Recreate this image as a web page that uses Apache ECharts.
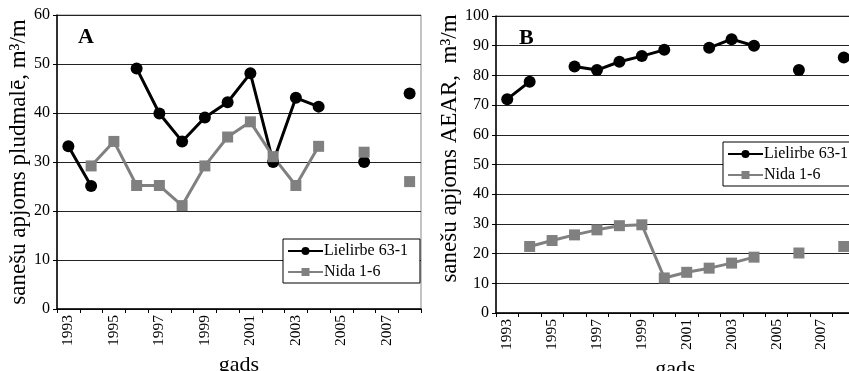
<!DOCTYPE html>
<html><head><meta charset="utf-8">
<script src="https://cdn.jsdelivr.net/npm/echarts@6/dist/echarts.min.js"></script>
<style>html,body{margin:0;padding:0;background:#fff}#c{width:849px;height:371px}</style>
</head><body><div id="c"></div>
<script>
const years = ['1993','1994','1995','1996','1997','1998','1999','2000','2001','2002','2003','2004','2005','2006','2007','2008'];
const lielirbeA = [33.2, 25.1, null, 49.1, 39.9, 34.2, 39.1, 42.2, 48.1, 30, 43.1, 41.3, null, 30, null, 44];
const nidaA     = [null, 29.2, 34.2, 25.2, 25.2, 21.1, 29.2, 35.1, 38.2, 31.1, 25.2, 33.2, null, 32, null, 26];
const lielirbeB = [72, 77.9, null, 83, 81.8, 84.6, 86.5, 88.6, null, 89.3, 92.2, 90, null, 81.8, null, 86];
const nidaB     = [null, 22.4, 24.4, 26.3, 28, 29.4, 29.7, 11.8, 13.7, 15.1, 16.8, 18.8, null, 20.2, null, 22.4];
const names = ['Lielirbe 63-1', 'Nida 1-6'];

const FONT = 'Liberation Serif';
const chart = echarts.init(document.getElementById('c'), null, {renderer: 'canvas'});

function xAxis(gi) {
  return {
    type: 'category', gridIndex: gi, data: years, boundaryGap: true,
    name: 'gads', nameLocation: 'middle', nameGap: 45,
    nameTextStyle: {fontFamily: FONT, fontSize: 22, color: '#000'},
    axisLine: {lineStyle: {color: '#000', width: 1.5}},
    axisTick: {show: true, interval: 0, length: 4, lineStyle: {color: '#000'}},
    axisLabel: {interval: 1, rotate: 90, margin: 6, fontFamily: FONT, fontSize: 15.5, color: '#000'},
    splitLine: {show: false}
  };
}
function yAxis(gi, max, title, pad) {
  return {
    type: 'value', gridIndex: gi, min: 0, max: max, interval: 10,
    name: title, nameLocation: 'middle', nameGap: 26,
    nameTextStyle: {fontFamily: FONT, fontSize: 23, color: '#000', padding: pad},
    axisLine: {show: true, lineStyle: {color: '#000', width: 1.5}},
    axisTick: {show: true, length: 4, lineStyle: {color: '#000'}},
    axisLabel: {margin: 7, fontFamily: FONT, fontSize: 16, color: '#000'},
    splitLine: {show: true, lineStyle: {color: '#222', width: 1}}
  };
}
function lineSeries(name, data, gi, black) {
  return {
    name: name, type: 'line', xAxisIndex: gi, yAxisIndex: gi, data: data,
    connectNulls: false, showSymbol: true, showAllSymbol: true,
    symbol: black ? 'circle' : 'rect', symbolSize: black ? 12 : 11,
    itemStyle: {color: black ? '#000' : '#808080'},
    lineStyle: {color: black ? '#000' : '#808080', width: 3},
    emphasis: {disabled: true}, animation: false
  };
}
function legend(left, top) {
  return {
    data: names, orient: 'vertical', left: left, top: top,
    backgroundColor: '#fff', borderColor: '#000', borderWidth: 1, borderRadius: 0,
    padding: [4, 12, 3, 4], itemGap: 5, itemWidth: 35, itemHeight: 10,
    textStyle: {fontFamily: FONT, fontSize: 16, color: '#000', padding: [0, 0, 0, -4]},
    selectedMode: false
  };
}

chart.setOption({
  animation: false,
  title: [
    {text: 'A', left: 73, top: 21, textStyle: {fontFamily: FONT, fontSize: 22, fontWeight: 'bold', color: '#000'}},
    {text: 'B', left: 514, top: 22, textStyle: {fontFamily: FONT, fontSize: 22, fontWeight: 'bold', color: '#000'}}
  ],
  grid: [
    {left: 57, top: 15, width: 364, height: 294, show: true, borderColor: '#888', borderWidth: 1, containLabel: false, outerBoundsMode: 'none'},
    {left: 496, top: 16, width: 359, height: 297, show: true, borderColor: '#888', borderWidth: 1, containLabel: false, outerBoundsMode: 'none'}
  ],
  xAxis: [xAxis(0), xAxis(1)],
  yAxis: [
    yAxis(0, 60, 'sanešu apjoms pludmalē, m³/m', [0, 0, 0, 0]),
    yAxis(1, 100, 'sanešu apjoms AEAR,  m³/m', [0, 0, 0, 32])
  ],
  legend: [legend(283, 239), legend(723, 142)],
  series: [
    lineSeries(names[0], lielirbeA, 0, true),
    lineSeries(names[1], nidaA, 0, false),
    lineSeries(names[0], lielirbeB, 1, true),
    lineSeries(names[1], nidaB, 1, false)
  ]
});
</script></body></html>
